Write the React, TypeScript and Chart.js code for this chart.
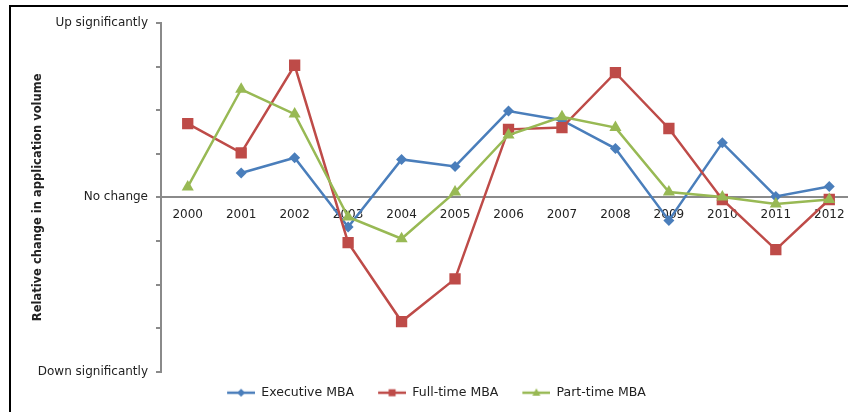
import React, { useEffect, useRef } from 'react';
import { Chart, registerables } from 'chart.js';

Chart.register(...registerables);

const categories = ['2000', '2001', '2002', '2003', '2004', '2005', '2006', '2007', '2008', '2009', '2010', '2011', '2012'];
const executiveMBA = [null, 0.56, 0.91, -0.68, 0.87, 0.71, 1.98, 1.77, 1.12, -0.53, 1.25, 0.02, 0.25];
const fullTimeMBA = [1.69, 1.02, 3.03, -1.04, -2.85, -1.87, 1.56, 1.6, 2.86, 1.58, -0.05, -1.2, -0.05];
const partTimeMBA = [0.24, 2.48, 1.91, -0.45, -0.95, 0.12, 1.43, 1.85, 1.6, 0.12, 0.01, -0.15, -0.05];
const seriesNames = ['Executive MBA', 'Full-time MBA', 'Part-time MBA'];
const yTickValues = [4, 0, -4];
const yTickTexts = ['Up significantly', 'No change', 'Down significantly'];
const yAxisTitle = 'Relative change in application volume';

const BLUE = '#4A7EBB';
const RED = '#BE4B48';
const GREEN = '#98B954';
const TEXT = '#222222';
const AXIS = '#8a8a8a';
const FONT = "'DejaVu Sans', sans-serif";

function legendIcon(color: string, kind: string): HTMLCanvasElement {
  const c = document.createElement('canvas');
  c.width = 42;
  c.height = 14;
  const ctx = c.getContext('2d')!;
  ctx.strokeStyle = color;
  ctx.lineWidth = 2.5;
  ctx.beginPath();
  ctx.moveTo(14, 7);
  ctx.lineTo(42, 7);
  ctx.stroke();
  ctx.fillStyle = color;
  ctx.beginPath();
  if (kind === 'diamond') {
    ctx.moveTo(28, 3);
    ctx.lineTo(32, 7);
    ctx.lineTo(28, 11);
    ctx.lineTo(24, 7);
  } else if (kind === 'square') {
    ctx.rect(24.5, 3.5, 7, 7);
  } else {
    ctx.moveTo(28, 2.5);
    ctx.lineTo(32, 10);
    ctx.lineTo(24, 10);
  }
  ctx.closePath();
  ctx.fill();
  return c;
}

export default function App() {
  const ref = useRef<HTMLCanvasElement | null>(null);

  useEffect(() => {
    if (!ref.current) return;
    const icons = [legendIcon(BLUE, 'diamond'), legendIcon(RED, 'square'), legendIcon(GREEN, 'triangle')];
    const colors = [BLUE, RED, GREEN];
    const chart = new Chart(ref.current, {
      type: 'line',
      data: {
        labels: categories,
        datasets: [
          {
            label: seriesNames[0],
            data: executiveMBA,
            borderColor: BLUE,
            backgroundColor: BLUE,
            borderWidth: 2.5,
            pointStyle: 'rectRot',
            pointRadius: 5.5,
            pointBorderWidth: 0,
            pointBackgroundColor: BLUE,
            tension: 0,
            order: 3,
          },
          {
            label: seriesNames[1],
            data: fullTimeMBA,
            borderColor: RED,
            backgroundColor: RED,
            borderWidth: 2.5,
            pointStyle: 'rect',
            pointRadius: 8,
            pointBorderWidth: 0,
            pointBackgroundColor: RED,
            tension: 0,
            order: 2,
          },
          {
            label: seriesNames[2],
            data: partTimeMBA,
            borderColor: GREEN,
            backgroundColor: GREEN,
            borderWidth: 2.5,
            pointStyle: 'triangle',
            pointRadius: 7,
            pointBorderWidth: 0,
            pointBackgroundColor: GREEN,
            tension: 0,
            order: 1,
          },
        ],
      },
      options: {
        animation: false,
        responsive: false,
        layout: { padding: { left: 3, top: 23, right: 24, bottom: 3 } },
        plugins: {
          tooltip: { enabled: false },
          legend: {
            position: 'bottom',
            title: { display: true, text: '', font: { size: 4 }, padding: 0 },
            labels: {
              usePointStyle: true,
              pointStyleWidth: 42,
              boxHeight: 12,
              padding: 10,
              color: TEXT,
              font: { family: FONT, size: 12.5 },
              generateLabels: () =>
                seriesNames.map((name, i) => ({
                  text: name,
                  pointStyle: icons[i] as any,
                  fillStyle: colors[i],
                  strokeStyle: colors[i],
                  lineWidth: 0,
                  hidden: false,
                  datasetIndex: i,
                  fontColor: TEXT,
                })),
            },
          },
        },
        scales: {
          x: {
            type: 'category',
            offset: true,
            position: { y: 0 } as any,
            grid: { display: false, drawTicks: false },
            border: { display: true, color: AXIS, width: 2 },
            ticks: {
              padding: 10,
              autoSkip: false,
              maxRotation: 0,
              color: TEXT,
              font: { family: FONT, size: 12 },
            },
          },
          y: {
            min: -4,
            max: 4,
            ticks: {
              stepSize: 1,
              autoSkip: false,
              padding: 8,
              color: TEXT,
              font: { family: FONT, size: 12 },
              callback: (v: any) => {
                const idx = yTickValues.indexOf(Number(v));
                return idx >= 0 ? yTickTexts[idx] : '';
              },
            },
            grid: { drawOnChartArea: false, drawTicks: true, tickLength: 5, color: AXIS, lineWidth: 2 },
            border: { display: true, color: AXIS, width: 2 },
            title: {
              display: true,
              text: yAxisTitle,
              color: TEXT,
              font: { family: FONT, size: 11.5, weight: 'bold' },
              padding: { top: 28, bottom: 0 },
            },
            afterFit: (s: any) => {
              s.width = 158;
            },
          },
        },
      },
    });
    return () => chart.destroy();
  }, []);

  return (
    <div
      style={{
        position: 'fixed',
        left: 0,
        top: 0,
        width: 848,
        height: 412,
        overflow: 'hidden',
        background: '#fff',
      }}
    >
      <canvas ref={ref} width={880} height={412} style={{ position: 'absolute', left: 0, top: 0 }} />
      <div
        style={{
          position: 'absolute',
          left: 9,
          top: 5,
          width: 900,
          height: 500,
          borderLeft: '2px solid #000',
          borderTop: '2px solid #000',
          pointerEvents: 'none',
        }}
      />
    </div>
  );
}
